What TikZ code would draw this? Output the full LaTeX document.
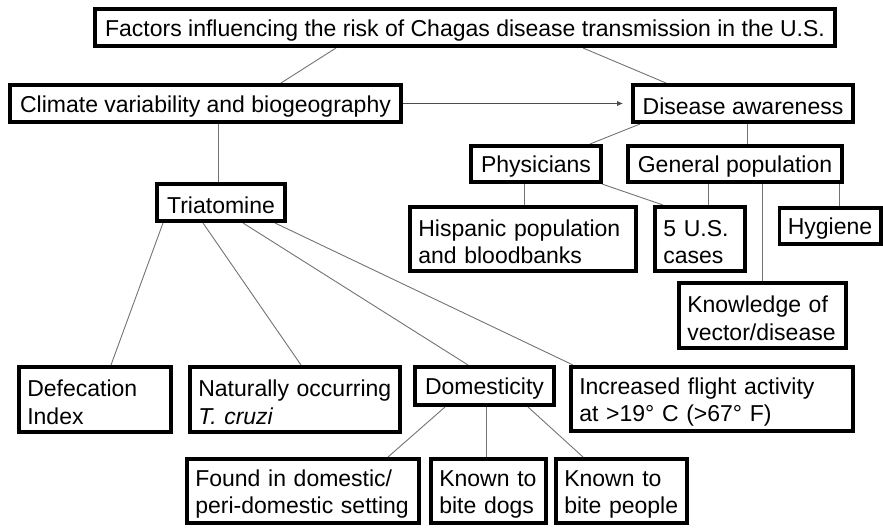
\documentclass[tikz,border=0pt]{standalone}
\usepackage{fontspec}
\setmainfont{Liberation Sans}
\usetikzlibrary{arrows.meta,backgrounds}

\begin{document}
\begin{tikzpicture}[
    x=1pt, y=-1pt,
    font=\fontsize{23}{27.5}\selectfont,
    factor/.style={draw, line width=3.6pt, fill=white, inner xsep=8.5pt, inner ysep=0pt, align=center,
      execute at begin node={\rule{0pt}{22.5pt}}},
    factortwo/.style={factor, align=left},
    link/.style={draw=black!55, line width=0.9pt},
    flow/.style={link, draw=black!70, -{Latex[length=6pt,width=5.5pt]}}
]
  \useasboundingbox (0,0) rectangle (883,529);

  % top level
  \node[factor, minimum width=740.4, minimum height=37.4] (risk) at (465,27.5)
    {Factors influencing the risk of Chagas disease transmission in the U.S.};
  \node[factor, minimum width=391.4, minimum height=37.4] (climate) at (205.5,103.5)
    {Climate variability and biogeography};
  \node[factor, minimum width=220.4, minimum height=37.4] (aware) at (743,103.5)
    {Disease awareness};

  % awareness branch
  \node[factor, minimum width=130.4, minimum height=36.4] (phys) at (536,164) {Physicians};
  \node[factor, minimum width=214.4, minimum height=36.4] (genpop) at (735,164) {General population};
  \node[factortwo, text width=209.4, minimum height=64.4] (hisp) at (523,239)
    {Hispanic population\\and bloodbanks};
  \node[factortwo, text width=73.4, minimum height=64.4] (cases) at (700,239)
    {5 U.S.\\cases};
  \node[factor, minimum width=100.4, minimum height=36.4] (hygiene) at (830,226) {Hygiene};
  \node[factortwo, text width=150.4, minimum height=65.4] (know) at (762.5,315.5)
    {Knowledge of\\vector/disease};

  % vector branch
  \node[factor, minimum width=128.4, minimum height=37.4] (tria) at (221,202.5) {Triatomine};
  \node[factortwo, text width=135.4, minimum height=65.4] (defec) at (95,399.5)
    {Defecation\\Index};
  \node[factortwo, text width=193.4, minimum height=65.4] (natur) at (295,399.5)
    {Naturally occurring\\\textit{T. cruzi}};
  \node[factor, minimum width=139.4, minimum height=38.4] (domes) at (484.5,386) {Domesticity};
  \node[factortwo, text width=265.4, minimum height=64.4] (flight) at (712,399)
    {Increased flight activity\\at >19° C (>67° F)};

  % domesticity leaves
  \node[factortwo, text width=215.4, minimum height=64.4] (found) at (303,491)
    {Found in domestic/\\peri-domestic setting};
  \node[factortwo, text width=98.4, minimum height=64.4] (dogs) at (488.5,491)
    {Known to\\bite dogs};
  \node[factortwo, text width=114.4, minimum height=64.4] (people) at (621.5,491)
    {Known to\\bite people};

  % connectors, bottom edge of parent to top edge of child
  \begin{scope}[on background layer]
    \foreach \a/\sa/\b/\sb in {risk/-129/climate/75.5, risk/118/aware/-77,
        climate/12.5/tria/-3, aware/-103/phys/54, aware/4/genpop/12,
        phys/-12/hisp/1, phys/66/cases/-37, genpop/-27/cases/8,
        genpop/27/know/-0.5, genpop/104/hygiene/9,
        tria/-58/defec/16, tria/-18/natur/6, tria/22/domes/-16.5, tria/54/flight/-139,
        domes/-39.5/found/85, domes/1.5/dogs/-2.5, domes/43.5/people/-38.5} {
      \draw[link] ([xshift=\sa]\a.south) -- ([xshift=\sb]\b.north);
    }
  \end{scope}

  \draw[flow] (climate.east) -- ([xshift=-8]aware.west);
\end{tikzpicture}
\end{document}
